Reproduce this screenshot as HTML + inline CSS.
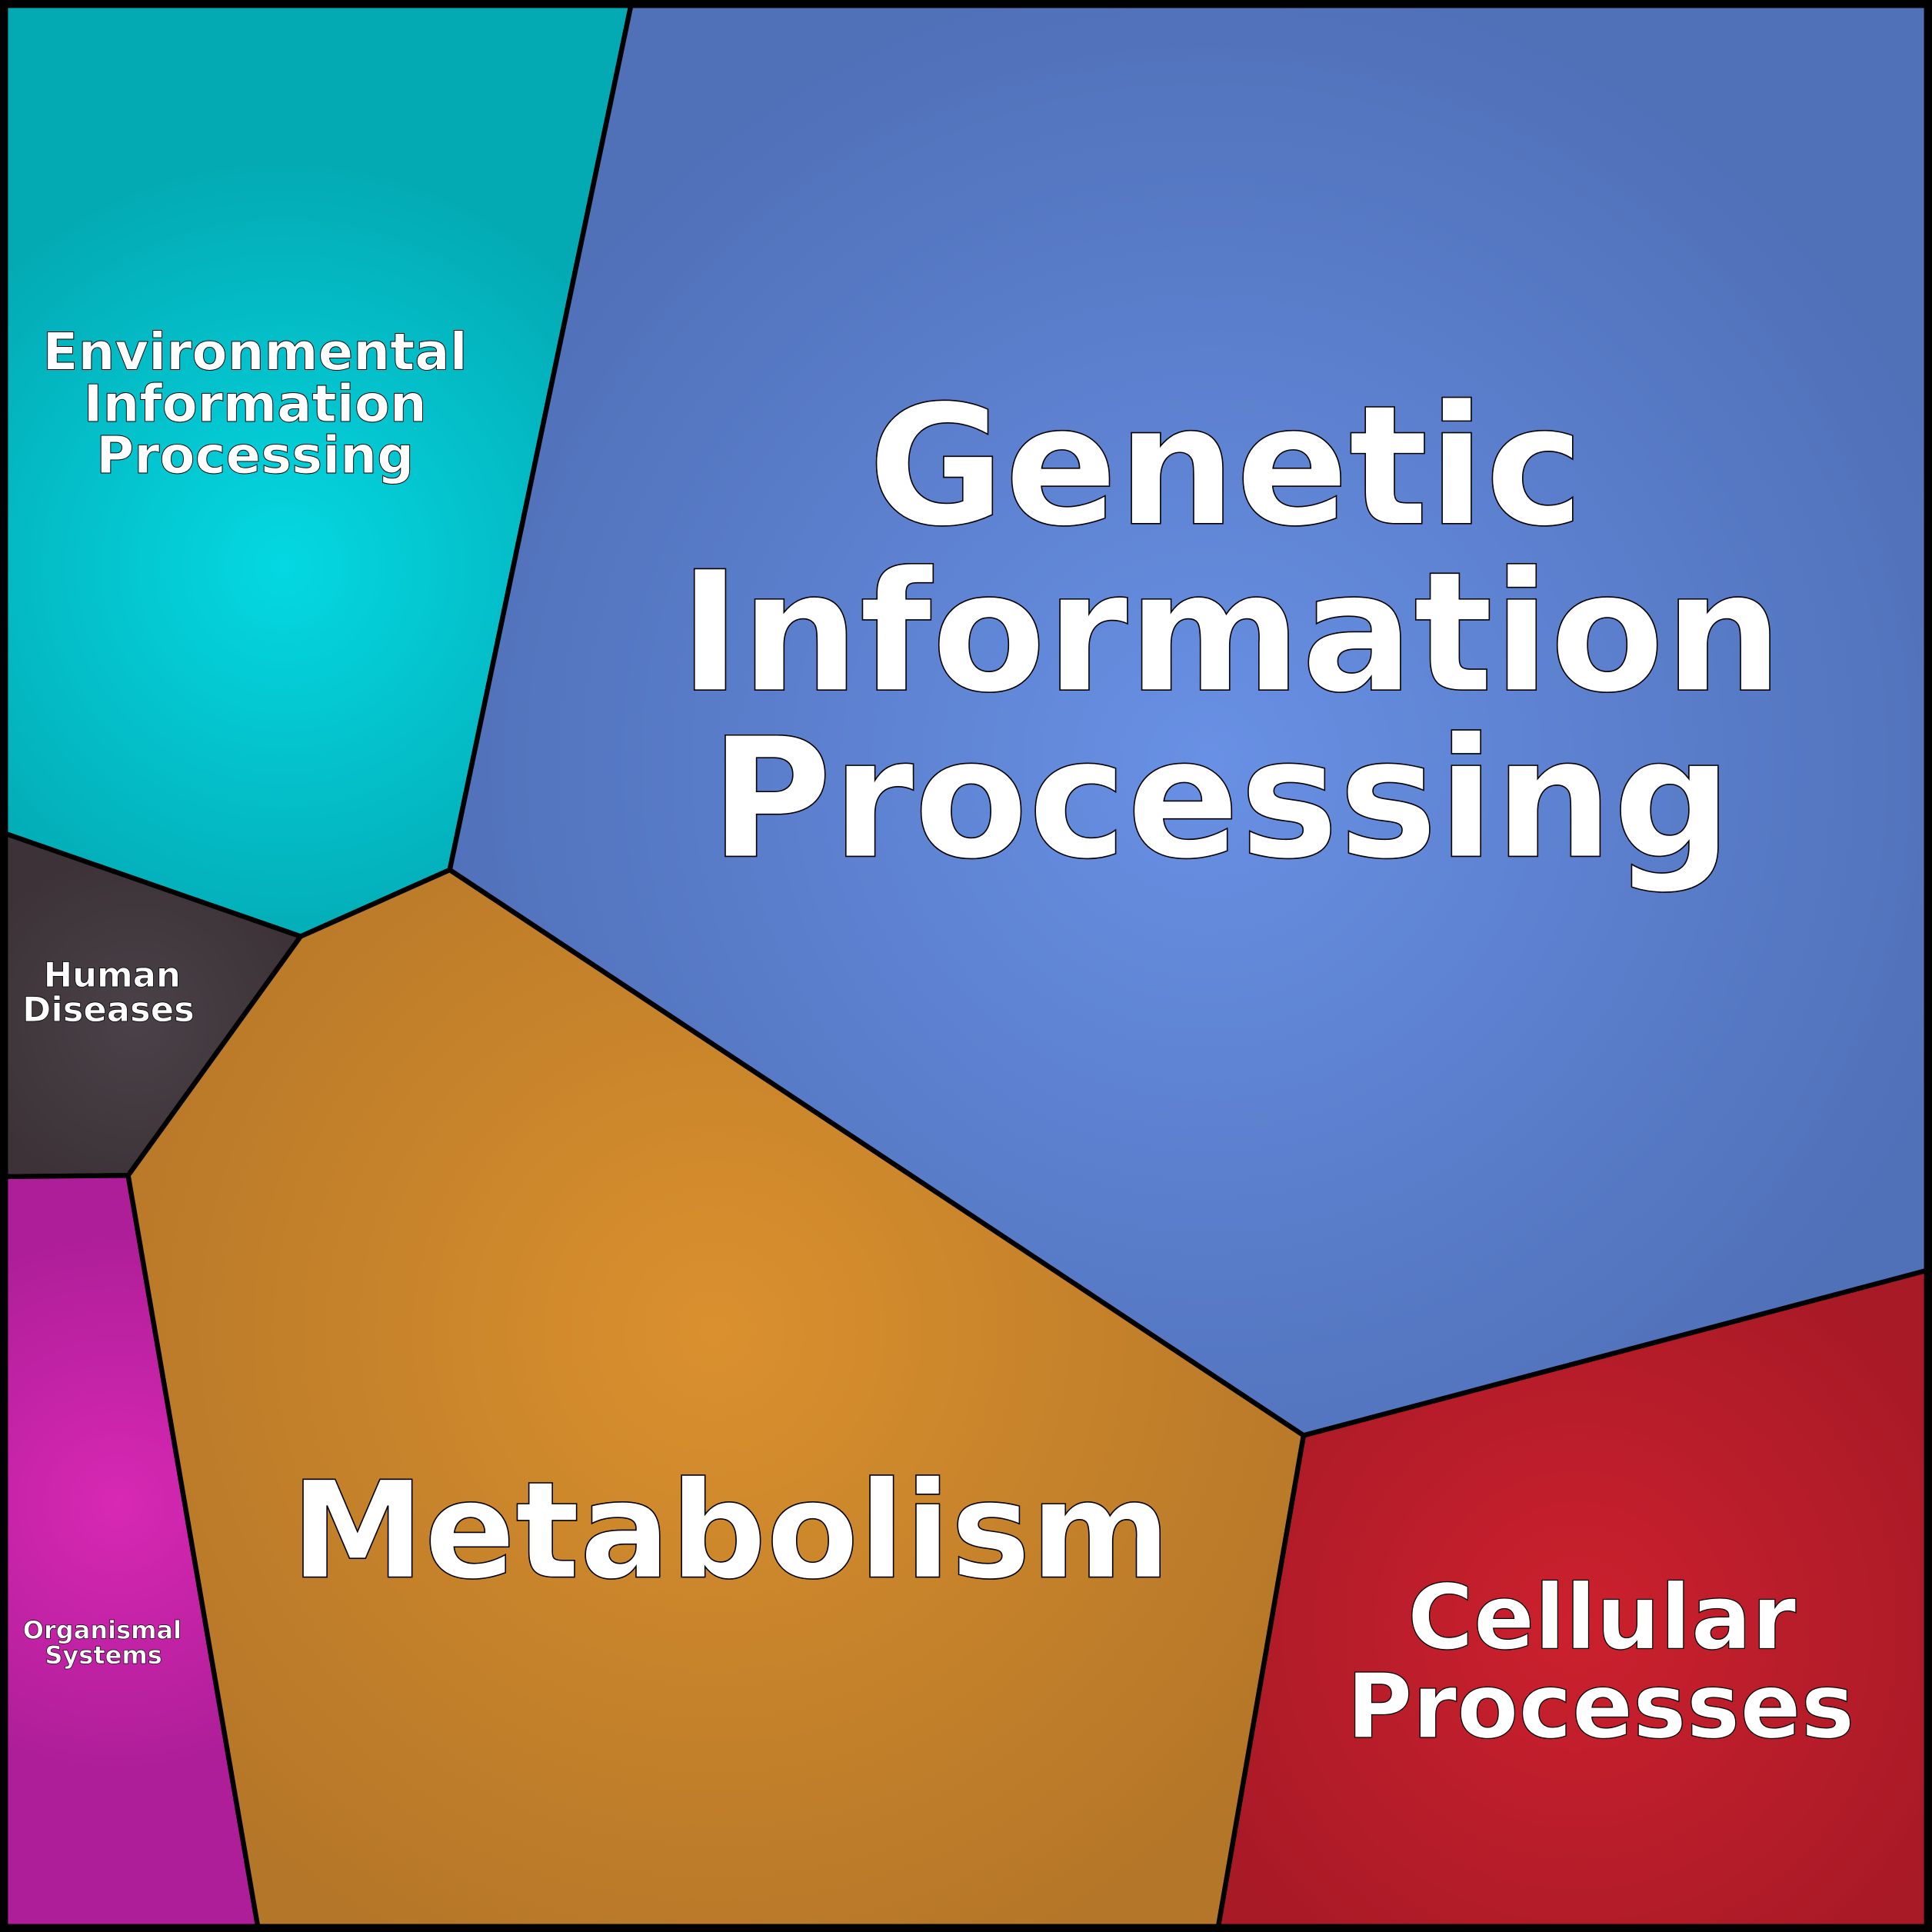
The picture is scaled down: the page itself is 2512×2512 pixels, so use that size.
<!DOCTYPE html>
<html><head><meta charset="utf-8"><style>html,body{margin:0;padding:0;background:#fff}svg{display:block}</style></head>
<body>
<svg width="2512" height="2512" viewBox="0 0 1568 1568" xmlns="http://www.w3.org/2000/svg">
<defs>
<radialGradient id="gEnv" cx="230" cy="460" r="330" gradientUnits="userSpaceOnUse"><stop offset="0" stop-color="#04d8e2"/><stop offset="1" stop-color="#03aab4"/></radialGradient>
<radialGradient id="gGen" cx="980" cy="620" r="650" gradientUnits="userSpaceOnUse"><stop offset="0" stop-color="#6890e4"/><stop offset="1" stop-color="#5070b8"/></radialGradient>
<radialGradient id="gHum" cx="110" cy="830" r="140" gradientUnits="userSpaceOnUse"><stop offset="0" stop-color="#4a4248"/><stop offset="1" stop-color="#3c3238"/></radialGradient>
<radialGradient id="gOrg" cx="95" cy="1220" r="220" gradientUnits="userSpaceOnUse"><stop offset="0" stop-color="#d828b4"/><stop offset="1" stop-color="#ae1e98"/></radialGradient>
<radialGradient id="gMet" cx="580" cy="1080" r="560" gradientUnits="userSpaceOnUse"><stop offset="0" stop-color="#da902e"/><stop offset="1" stop-color="#b47628"/></radialGradient>
<radialGradient id="gCel" cx="1280" cy="1320" r="340" gradientUnits="userSpaceOnUse"><stop offset="0" stop-color="#cc202e"/><stop offset="1" stop-color="#a81a26"/></radialGradient>
</defs>
<g stroke="#000" stroke-width="4" stroke-linejoin="round">
<polygon points="0,0 513,0 365,706 244,760 0,675" fill="url(#gEnv)"/>
<polygon points="513,0 1568,0 1568,1030 1058,1165 365,706" fill="url(#gGen)"/>
<polygon points="0,675 244,760 104,954 0,955" fill="url(#gHum)"/>
<polygon points="0,955 104,954 210,1568 0,1568" fill="url(#gOrg)"/>
<polygon points="365,706 1058,1165 988,1568 210,1568 104,954 244,760" fill="url(#gMet)"/>
<polygon points="1058,1165 1568,1030 1568,1568 988,1568" fill="url(#gCel)"/>
</g>
<rect x="3" y="3" width="1562" height="1562" fill="none" stroke="#000" stroke-width="7"/>
<g font-family="'DejaVu Sans','Liberation Sans',sans-serif" font-weight="bold" fill="#fff" stroke="#000" text-anchor="middle">
<g font-size="135" stroke-width="1"><text x="995" y="425">Genetic</text><text x="999" y="560">Information</text><text x="991" y="695">Processing</text></g>
<text x="593" y="1280" font-size="109" stroke-width="1">Metabolism</text>
<g font-size="73" stroke-width="0.8"><text x="1300" y="1338">Cellular</text><text x="1299" y="1410">Processes</text></g>
<g font-size="42" stroke-width="0.6"><text x="207" y="300">Environmental</text><text x="207" y="342">Information</text><text x="207" y="384">Processing</text></g>
<g font-size="28" stroke-width="0.5"><text x="91" y="801">Human</text><text x="88" y="829">Diseases</text></g>
<g font-size="20" stroke-width="0.4"><text x="83" y="1330">Organismal</text><text x="84" y="1350">Systems</text></g>
</g>
</svg>
</body></html>
